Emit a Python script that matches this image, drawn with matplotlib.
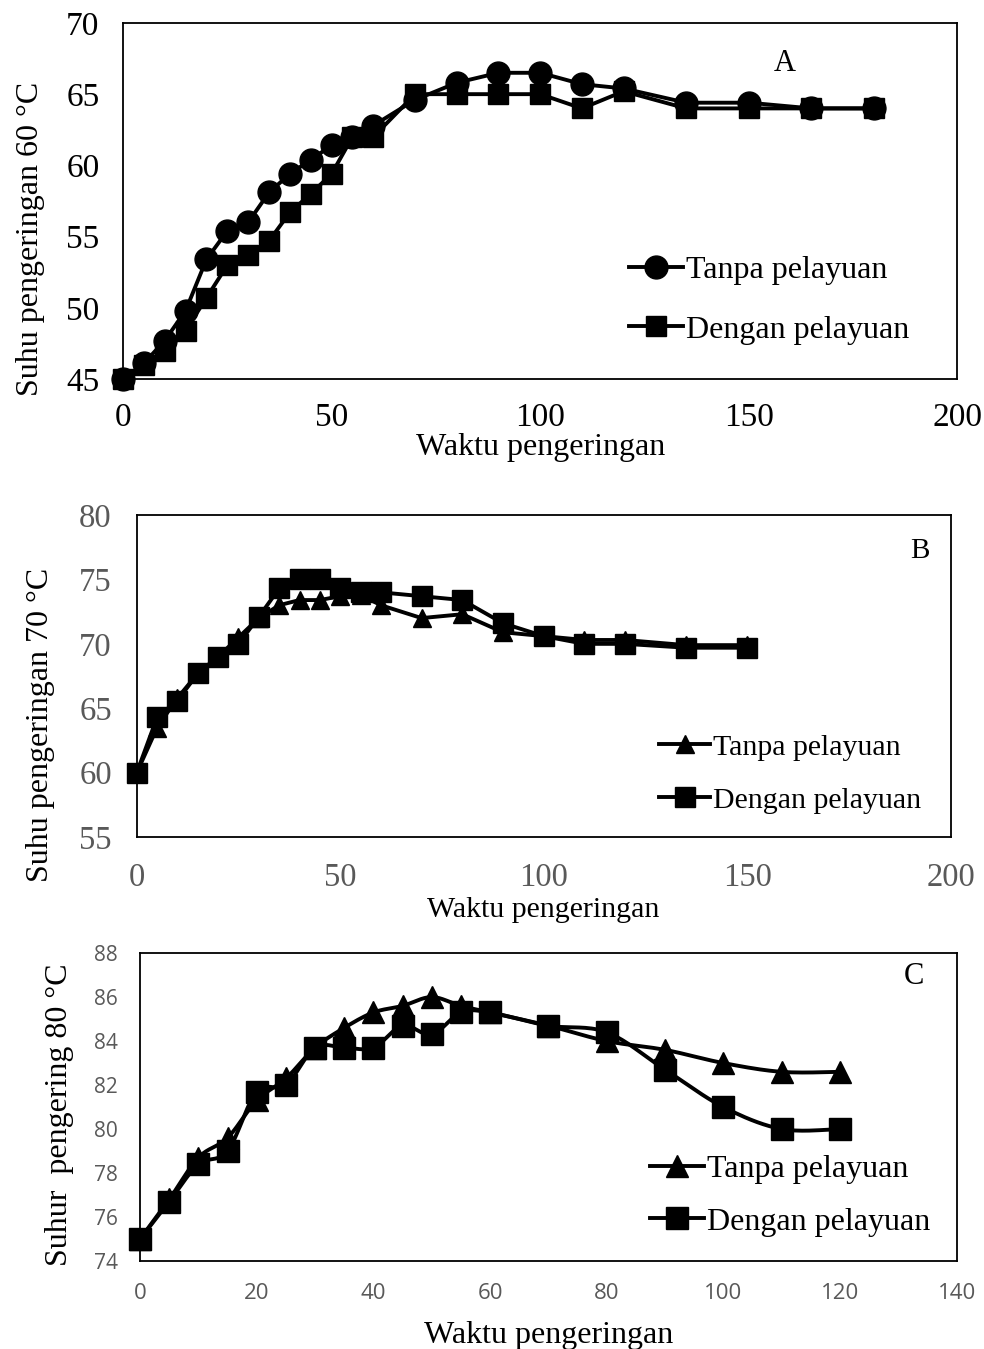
import matplotlib
matplotlib.use("Agg")
import matplotlib.pyplot as plt
from matplotlib.lines import Line2D
import numpy as np

# Panel A: suhu pengeringan 60 °C
waktu_a = [0, 5, 10, 15, 20, 25, 30, 35, 40, 45, 50, 55, 60, 70, 80, 90, 100, 110, 120, 135, 150, 165, 180]
tanpa_a = [45.0, 46.1, 47.7, 49.8, 53.4, 55.4, 56.0, 58.1, 59.4, 60.4, 61.4, 62.0, 62.8, 64.6, 65.8, 66.5, 66.5,
           65.7, 65.4, 64.4, 64.4, 64.0, 64.0]
dengan_a = [45.0, 46.0, 47.0, 48.4, 50.7, 53.0, 53.7, 54.7, 56.7, 58.0, 59.4, 62.0, 62.0, 65.0, 65.0, 65.0, 65.0,
            64.0, 65.2, 64.0, 64.0, 64.0, 64.0]

# Panel B: suhu pengeringan 70 °C
waktu_b = [0, 5, 10, 15, 20, 25, 30, 35, 40, 45, 50, 55, 60, 70, 80, 90, 100, 110, 120, 135, 150]
tanpa_b = [60.0, 63.5, 65.8, 67.7, 69.0, 70.5, 72.0, 73.0, 73.4, 73.4, 73.7, 73.8, 73.0, 72.0, 72.3, 70.9, 70.6,
           70.3, 70.3, 69.9, 69.9]
dengan_b = [60.0, 64.3, 65.6, 67.7, 69.0, 70.0, 72.1, 74.3, 75.0, 75.0, 74.3, 74.0, 74.0, 73.7, 73.4, 71.6, 70.6,
            70.0, 70.0, 69.7, 69.7]

# Panel C: suhu pengering 80 °C
waktu_c = [0, 5, 10, 15, 20, 25, 30, 35, 40, 45, 50, 55, 60, 70, 80, 90, 100, 110, 120]
tanpa_c = [75.0, 76.8, 78.7, 79.6, 81.3, 82.3, 83.7, 84.6, 85.3, 85.6, 86.0, 85.6, 85.3, 84.7, 84.0, 83.6, 83.0,
           82.6, 82.6]
dengan_c = [75.0, 76.7, 78.4, 79.0, 81.7, 82.0, 83.7, 83.7, 83.7, 84.7, 84.3, 85.3, 85.3, 84.7, 84.4, 82.7, 81.0,
            80.0, 80.0]

serif = "Liberation Serif"
abu = "#595959"
LW = 2.8

fig = plt.figure(figsize=(9.84, 13.49), dpi=100)


def gaya_axes(ax):
    for s in ax.spines.values():
        s.set_linewidth(1.3)
        s.set_color("black")
    ax.tick_params(length=0)


def halus(x, y, n=20):
    # garis "smooth" ala Excel (Bezier lewat setiap titik)
    x = np.asarray(x, float)
    y = np.asarray(y, float)
    px = np.concatenate([[x[0]], x, [x[-1]]])
    py = np.concatenate([[y[0]], y, [y[-1]]])
    t = np.linspace(0, 1, n)[:, None]
    xs, ys = [], []
    for i in range(1, len(px) - 2):
        p0 = np.array([px[i], py[i]])
        p3 = np.array([px[i + 1], py[i + 1]])
        p1 = p0 + (np.array([px[i + 1], py[i + 1]]) - np.array([px[i - 1], py[i - 1]])) / 6
        p2 = p3 - (np.array([px[i + 2], py[i + 2]]) - np.array([px[i], py[i]])) / 6
        b = (1 - t) ** 3 * p0 + 3 * (1 - t) ** 2 * t * p1 + 3 * (1 - t) * t ** 2 * p2 + t ** 3 * p3
        xs.extend(b[:, 0])
        ys.extend(b[:, 1])
    return xs, ys


# ---------------- A ----------------
ax1 = fig.add_axes([0.125, 0.719, 0.848, 0.264])
ax1.plot(waktu_a, tanpa_a, color="black", lw=LW, marker="o", ms=16.5, label="Tanpa pelayuan", clip_on=False)
ax1.plot(waktu_a, dengan_a, color="black", lw=LW, marker="s", ms=15, label="Dengan pelayuan", clip_on=False)
ax1.set_xlim(0, 200)
ax1.set_ylim(45, 70)
ax1.set_xticks(range(0, 201, 50))
ax1.set_yticks(range(45, 71, 5))
gaya_axes(ax1)
ax1.tick_params(pad=17, labelsize=24, labelcolor="black")
for t in ax1.get_xticklabels() + ax1.get_yticklabels():
    t.set_fontfamily(serif)
ax1.set_xlabel("Waktu pengeringan", family=serif, fontsize=23, labelpad=0)
ax1.set_ylabel("Suhu pengeringan 60 °C", family=serif, fontsize=23)
ax1.yaxis.set_label_coords(-0.094, 0.393)
ax1.text(0.793, 0.885, "A", transform=ax1.transAxes, family=serif, fontsize=22, ha="center", va="center")
ax1.legend(loc="upper left", bbox_to_anchor=(0.606, 0.347), frameon=False, borderpad=0, borderaxespad=0,
           handlelength=1.7, handletextpad=0.1, labelspacing=0.95, prop={"family": serif, "size": 23})

# ---------------- B ----------------
ax2 = fig.add_axes([0.139, 0.3795, 0.827, 0.2387])
ax2.plot(waktu_b, tanpa_b, color="black", lw=LW, marker="^", ms=13, label="Tanpa pelayuan", clip_on=False)
ax2.plot(waktu_b, dengan_b, color="black", lw=LW, marker="s", ms=15, label="Dengan pelayuan", clip_on=False)
ax2.set_xlim(0, 200)
ax2.set_ylim(55, 80)
ax2.set_xticks(range(0, 201, 50))
ax2.set_yticks(range(55, 81, 5))
gaya_axes(ax2)
ax2.tick_params(pad=18, labelsize=23.5, labelcolor=abu)
for t in ax2.get_xticklabels() + ax2.get_yticklabels():
    t.set_fontfamily(serif)
ax2.set_xlabel("Waktu pengeringan", family=serif, fontsize=21.5, labelpad=3)
ax2.set_ylabel("Suhu pengeringan 70 °C", family=serif, fontsize=23)
ax2.yaxis.set_label_coords(-0.101, 0.348)
ax2.text(0.962, 0.887, "B", transform=ax2.transAxes, family=serif, fontsize=21, ha="center", va="center")
ax2.legend(loc="upper left", bbox_to_anchor=(0.642, 0.32), frameon=False, borderpad=0, borderaxespad=0,
           handlelength=1.7, handletextpad=0.1, labelspacing=0.87, prop={"family": serif, "size": 21.5})

# ---------------- C ----------------
ax3 = fig.add_axes([0.1423, 0.0652, 0.830, 0.2283])
xs, ys = halus(waktu_c, tanpa_c)
ax3.plot(xs, ys, color="black", lw=LW, clip_on=False)
xs, ys = halus(waktu_c, dengan_c)
ax3.plot(xs, ys, color="black", lw=LW, clip_on=False)
ax3.plot(waktu_c, tanpa_c, ls="none", color="black", marker="^", ms=16, clip_on=False)
ax3.plot(waktu_c, dengan_c, ls="none", color="black", marker="s", ms=16.5, clip_on=False)
ax3.set_xlim(0, 140)
ax3.set_ylim(74, 88)
ax3.set_xticks(range(0, 141, 20))
ax3.set_yticks(range(74, 89, 2))
gaya_axes(ax3)
ax3.tick_params(axis="y", pad=16, labelsize=15, labelcolor=abu)
ax3.tick_params(axis="x", pad=16, labelsize=16, labelcolor=abu)
for t in ax3.get_xticklabels() + ax3.get_yticklabels():
    t.set_fontfamily("Open Sans")
ax3.set_xlabel("Waktu pengeringan", family=serif, fontsize=23, labelpad=12)
ax3.set_ylabel("Suhur  pengering 80 °C", family=serif, fontsize=23)
ax3.yaxis.set_label_coords(-0.081, 0.474)
ax3.text(0.947, 0.925, "C", transform=ax3.transAxes, family=serif, fontsize=22, ha="center", va="center")
handles_c = [Line2D([], [], color="black", lw=LW, marker="^", ms=16),
             Line2D([], [], color="black", lw=LW, marker="s", ms=16.5)]
ax3.legend(handles_c, ["Tanpa pelayuan", "Dengan pelayuan"], loc="upper left", bbox_to_anchor=(0.624, 0.346),
           frameon=False, borderpad=0, borderaxespad=0, handlelength=1.7, handletextpad=0.1,
           labelspacing=0.73, prop={"family": serif, "size": 23})

fig.savefig("out.png", dpi=100)
